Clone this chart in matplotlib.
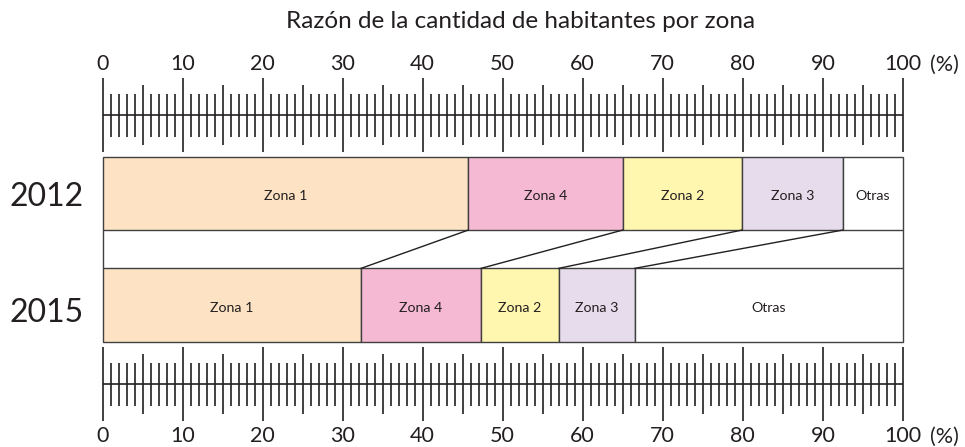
import numpy as np
import matplotlib
matplotlib.use("Agg")
import matplotlib.pyplot as plt

plt.rcParams['font.family'] = ['Lato', 'DejaVu Sans']

# data (percent of inhabitants per zone)
years = ["2012", "2015"]
zones = ["Zona 1", "Zona 4", "Zona 2", "Zona 3", "Otras"]
share_2012 = [45.7, 19.3, 14.9, 12.6, 7.5]
share_2015 = [32.3, 15.0, 9.7, 9.5, 33.5]
colors = ["#fde3c3", "#f6b9d3", "#fff6b0", "#e6dcec", "#ffffff"]
tick_labels = [str(v) for v in range(0, 101, 10)]

edge = "#404040"
ink = "#231f20"

fig = plt.figure(figsize=(9.65, 4.47), dpi=100)
ax = fig.add_axes([0, 0, 1, 1])
ax.set_xlim(-102.5 / 8.004, (965 - 102.5) / 8.004)
ax.set_ylim(447, 0)
ax.axis("off")

# bars
rows = [(share_2012, 193.4, 73.3), (share_2015, 305.2, 73.7)]
for vals, yc, h in rows:
    lefts = np.concatenate([[0], np.cumsum(vals)[:-1]])
    ax.barh(yc, vals, left=lefts, height=h, color=colors,
            edgecolor=edge, linewidth=1.0, zorder=2)
    for l, v, z in zip(lefts, vals, zones):
        ax.text(l + v / 2, yc + 3, z, ha="center", va="center",
                fontsize=10.2, color=ink, zorder=3)

# gap frame between bars
top_bottom = 193.4 + 73.3 / 2
low_top = 305.2 - 73.7 / 2
ax.vlines([0, 100], top_bottom, low_top, color=edge, lw=1.0, zorder=2)

# connecting lines between cumulative boundaries
c12 = np.cumsum(share_2012)[:-1]
c15 = np.cumsum(share_2015)[:-1]
for a, b in zip(c12, c15):
    ax.plot([a, b], [top_bottom, low_top], color=ink, lw=1.0, zorder=2)

# year labels
for yr, yc in zip(years, [196.5, 313.0]):
    ax.text(-6.93, yc, yr, ha="center", va="center", fontsize=23, color=ink)


def ruler(y0, label_y):
    pos = np.arange(0, 101)
    ax.hlines(y0, 0, 100, color=ink, lw=1.2)
    for p in pos:
        if p % 10 == 0:
            d = 37
        elif p % 5 == 0:
            d = 30
        else:
            d = 21.5
        ax.vlines(p, y0 - d, y0 + d, color=ink, lw=1.2)
    for p, t in zip(range(0, 101, 10), tick_labels):
        ax.text(p, label_y, t, ha="center", va="center",
                fontsize=15.5, color=ink)
    ax.text(103.4, label_y, "(%)", ha="left", va="center",
            fontsize=15.5, color=ink)


ruler(115.3, 64.5)
ruler(384.3, 436.5)

ax.text(52.2, 21, "Razón de la cantidad de habitantes por zona",
        ha="center", va="center", fontsize=17.5, color=ink)

fig.savefig("out.png", dpi=100)
